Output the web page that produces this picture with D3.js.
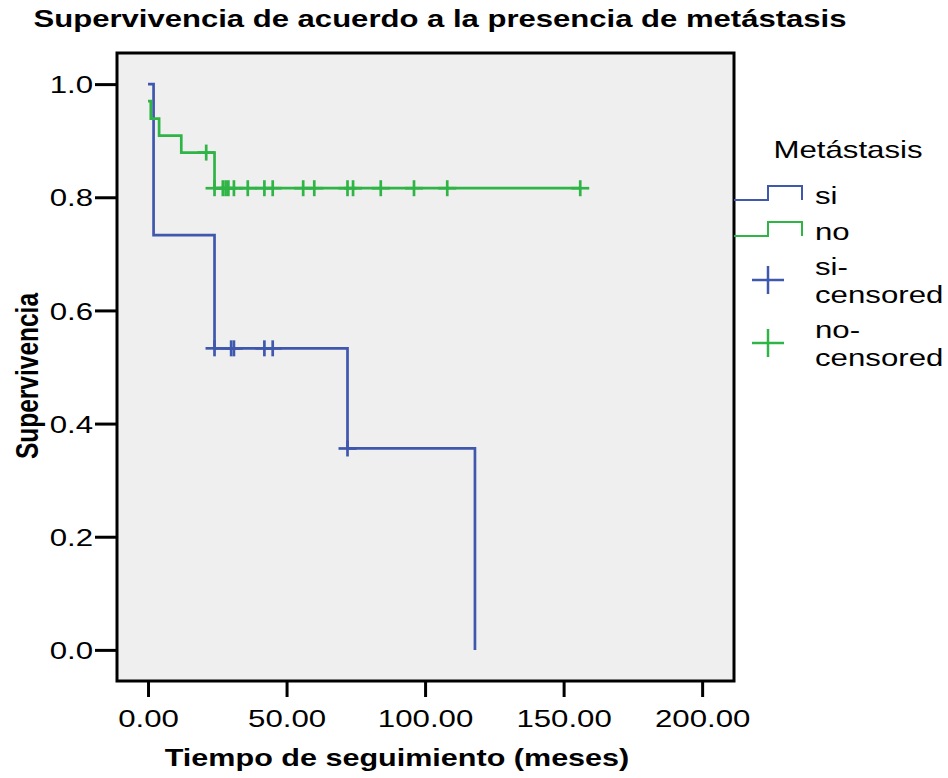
<!DOCTYPE html>
<html>
<head>
<meta charset="utf-8">
<title>Supervivencia de acuerdo a la presencia de metástasis</title>
<script src="https://d3js.org/d3.v7.min.js"></script>
<style>
  body { margin: 0; background: #ffffff; }
  text { font-family: "Liberation Sans", Arial, sans-serif; fill: #000; }
</style>
</head>
<body>
<div id="my_dataviz"></div>
<script>

// Kaplan-Meier steps, Metástasis = si
var siTiempo = [0, 2, 24, 72, 118];
var siSuper = [1.0, 0.733, 0.533, 0.356, 0.0];
var siCensura = [24, 30, 31, 42, 45, 72];

// Kaplan-Meier steps, Metástasis = no
var noTiempo = [0, 1, 4, 12, 24, 156];
var noSuper = [0.970, 0.939, 0.909, 0.879, 0.816, 0.816];
var noCensura = [21, 24, 27, 28, 29, 31, 36, 42, 45, 56, 60, 72, 74, 84, 96, 108, 156];

// axis ticks and legend
var xTicks = [0, 50, 100, 150, 200];
var yTicks = [0, 0.2, 0.4, 0.6, 0.8, 1.0];
var grupos = ["si", "no"];
var colores = ["#3f57ad", "#2fb446"];

// the original picture is stretched sideways
var sx = 1.3;

var width = 948, height = 778;
var frame = {left: 117, right: 734, top: 53, bottom: 681};

var svg = d3.select("#my_dataviz")
  .append("svg")
    .attr("width", width)
    .attr("height", height);

var x = d3.scaleLinear()
  .domain([-11.2, 211.5])
  .range([frame.left, frame.right]);

var y = d3.scaleLinear()
  .domain([-0.055, 1.055])
  .range([frame.bottom, frame.top]);

var color = d3.scaleOrdinal().domain(grupos).range(colores);

// plot background + frame
svg.append("rect")
  .attr("x", frame.left)
  .attr("y", frame.top)
  .attr("width", frame.right - frame.left)
  .attr("height", frame.bottom - frame.top)
  .style("fill", "#efefef")
  .style("stroke", "#000")
  .style("stroke-width", 3);

// Y axis
var yAxis = svg.append("g")
  .attr("transform", "translate(" + frame.left + ",0)")
  .call(d3.axisLeft(y).tickValues(yTicks).tickSize(22).tickFormat(d3.format(".1f")));
yAxis.select(".domain").remove();
yAxis.selectAll("line").style("stroke", "#000").style("stroke-width", 3);
yAxis.selectAll("text")
  .attr("x", -24 / sx)
  .attr("dy", "0.36em")
  .attr("transform", "scale(" + sx + ",1)")
  .style("font-size", "24px")
  .style("fill", "#000");

// X axis
var xAxis = svg.append("g")
  .attr("transform", "translate(0," + frame.bottom + ")")
  .call(d3.axisBottom(x).tickValues(xTicks).tickSize(16).tickFormat(d3.format(".2f")));
xAxis.select(".domain").remove();
xAxis.selectAll("line").style("stroke", "#000").style("stroke-width", 3);
xAxis.selectAll("text")
  .attr("y", 46)
  .attr("dy", 0)
  .attr("transform", "scale(" + sx + ",1)")
  .style("font-size", "24px")
  .style("fill", "#000");

// titles
svg.append("text")
  .attr("transform", "translate(440,27) scale(" + sx + ",1)")
  .attr("text-anchor", "middle")
  .style("font-size", "23.9px")
  .style("font-weight", "bold")
  .text("Supervivencia de acuerdo a la presencia de metástasis");

svg.append("text")
  .attr("transform", "translate(397,766) scale(" + sx + ",1)")
  .attr("text-anchor", "middle")
  .style("font-size", "23.5px")
  .style("font-weight", "bold")
  .text("Tiempo de seguimiento (meses)");

svg.append("text")
  .attr("transform", "translate(38,376) rotate(-90) scale(1," + sx + ")")
  .attr("text-anchor", "middle")
  .style("font-size", "24.5px")
  .style("font-weight", "bold")
  .text("Supervivencia");

// survival curves
var line = d3.line()
  .x(function(d) { return x(d[0]); })
  .y(function(d) { return y(d[1]); })
  .curve(d3.curveStepAfter);

// survival value at time t (step function)
function nivel(tiempos, sup, t) {
  var i = d3.bisectRight(tiempos, t) - 1;
  return sup[Math.max(i, 0)];
}

var series = [
  {grupo: "si", tiempos: siTiempo, sup: siSuper, cens: siCensura},
  {grupo: "no", tiempos: noTiempo, sup: noSuper, cens: noCensura}
];

series.forEach(function(s) {
  svg.append("path")
    .datum(d3.zip(s.tiempos, s.sup))
    .attr("d", line)
    .style("fill", "none")
    .style("stroke", color(s.grupo))
    .style("stroke-width", 2.7);

  // censored marks
  var g = svg.append("g");
  s.cens.forEach(function(t) {
    var cx = x(t), cy = y(nivel(s.tiempos, s.sup, t));
    g.append("line").attr("x1", cx - 9).attr("x2", cx + 9).attr("y1", cy).attr("y2", cy)
      .style("stroke", color(s.grupo)).style("stroke-width", 2.7);
    g.append("line").attr("x1", cx).attr("x2", cx).attr("y1", cy - 8).attr("y2", cy + 8)
      .style("stroke", color(s.grupo)).style("stroke-width", 2.7);
  });
});

// Legend
svg.append("text")
  .attr("transform", "translate(848,158) scale(" + sx + ",1)")
  .attr("text-anchor", "middle")
  .style("font-size", "24px")
  .text("Metástasis");

// step symbols
var pasos = [200, 236];
grupos.forEach(function(gr, i) {
  var b = pasos[i];
  svg.append("path")
    .attr("d", "M734," + b + "H768V" + (b - 14) + "H802V" + b)
    .style("fill", "none")
    .style("stroke", color(gr))
    .style("stroke-width", 2);
  svg.append("text")
    .attr("transform", "translate(815," + (b + 4) + ") scale(" + sx + ",1)")
    .style("font-size", "24px")
    .text(gr);
});

// censored symbols
var cruces = [280, 343];
grupos.forEach(function(gr, i) {
  var c = cruces[i];
  svg.append("line").attr("x1", 752).attr("x2", 784).attr("y1", c).attr("y2", c)
    .style("stroke", color(gr)).style("stroke-width", 2.5);
  svg.append("line").attr("x1", 768).attr("x2", 768).attr("y1", c - 14).attr("y2", c + 14)
    .style("stroke", color(gr)).style("stroke-width", 2.5);
  svg.append("text")
    .attr("transform", "translate(815," + (c - 5) + ") scale(" + sx + ",1)")
    .style("font-size", "24px")
    .text(gr + "-");
  svg.append("text")
    .attr("transform", "translate(815," + (c + 23) + ") scale(" + sx + ",1)")
    .style("font-size", "24px")
    .text("censored");
});

</script>
</body>
</html>
